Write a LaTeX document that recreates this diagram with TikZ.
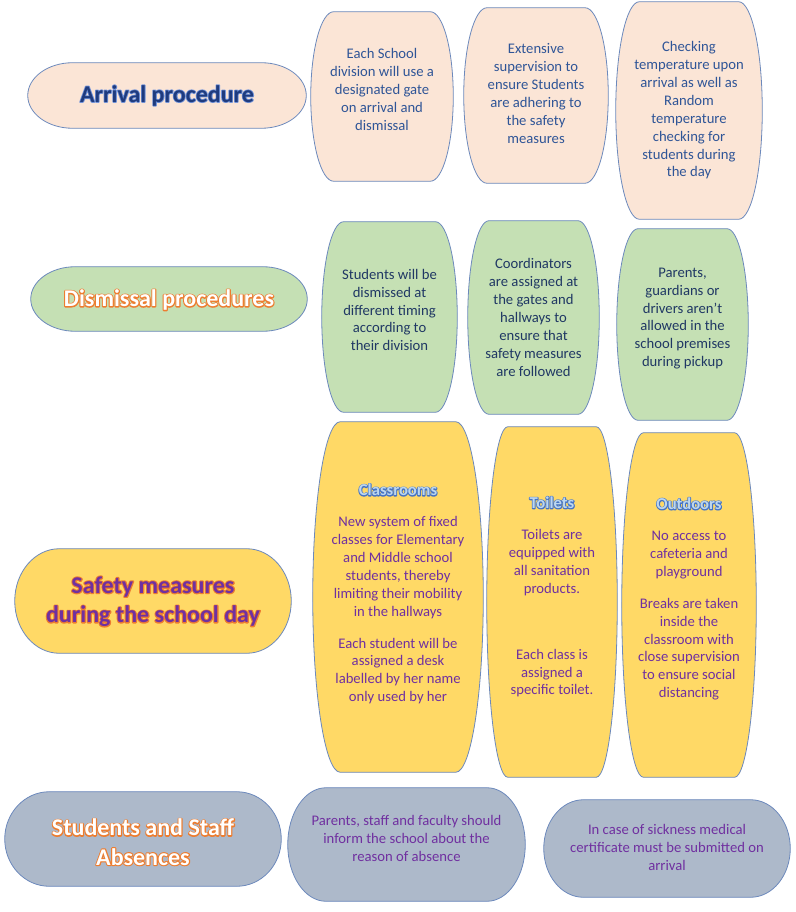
\documentclass[tikz,border=0pt]{standalone}
\usepackage{fontspec}
\setmainfont{Carlito}
\usetikzlibrary{backgrounds,calc}

\definecolor{peach}{HTML}{FBE5D6}
\definecolor{leaf}{HTML}{C5E0B4}
\definecolor{sun}{HTML}{FFD966}
\definecolor{slate}{HTML}{ADB9CA}
\definecolor{boxedge}{HTML}{6C89BC}
\definecolor{arrhead}{HTML}{1F3B7E}
\definecolor{arrtext}{HTML}{2F5597}
\definecolor{distext}{HTML}{203864}
\definecolor{purp}{HTML}{7030A0}
\definecolor{subfill}{HTML}{BDD7EE}

% text with an outline drawn behind it
\newcommand\glow[3]{\leavevmode\rlap{\special{pdf:literal direct 1 Tr 1 j #1 w #2 RG}#3\special{pdf:literal direct 0 Tr}}#3}
\newcommand\subhead[1]{{\fontsize{12.5}{15}\selectfont\bfseries\color{subfill}\glow{1.3}{0.27 0.45 0.77}{#1}}}

% terminator outline round a node, moved down by #3
\newcommand\termbox[3]{%
  \path[draw=boxedge,line width=0.6pt,fill=#2]
    let \p1=($(#1.north west)+(0,#3)$), \p2=($(#1.south east)+(0,#3)$),
        \n1={0.161*(\x2-\x1)}, \n2={0.5*(\y1-\y2)} in
    (\x1+\n1,\y1) -- (\x2-\n1,\y1)
    arc[start angle=90,end angle=-90,x radius=\n1,y radius=\n2]
    -- (\x1+\n1,\y2)
    arc[start angle=270,end angle=90,x radius=\n1,y radius=\n2]
    -- cycle;}

\begin{document}
\begin{tikzpicture}[x=0.75pt,y=-0.75pt,
    wh/.style 2 args={minimum width=#1*0.75pt,minimum height=#2*0.75pt},
    topic/.style={align=center,inner sep=0pt,
      font=\fontsize{18}{22}\selectfont\bfseries},
    item/.style={align=center,inner sep=0pt,
      font=\fontsize{11}{13.4}\selectfont},
    ]
    \useasboundingbox (0,0) rectangle (795,912);

    % topics
    \node[topic,wh={278}{65},text=arrhead] (arrival) at (167,95.5)
      {\glow{1.2}{0.45 0.58 0.85}{Arrival procedure}};
    \node[topic,wh={276}{64},text=white] (dismissal) at (169,300)
      {\glow{1.6}{0.93 0.49 0.19}{Dismissal procedures}};
    \node[topic,wh={276}{104},text=purp] (safety) at (153,601.5)
      {\glow{1.6}{0.93 0.49 0.19}{Safety measures}\\
       \glow{1.6}{0.93 0.49 0.19}{during the school day}};
    \node[topic,wh={276}{94},text=white] (absence) at (143,842)
      {\glow{1.6}{0.93 0.49 0.19}{Students and Staff}\\
       \glow{1.6}{0.93 0.49 0.19}{Absences}};

    % arrival
    \node[item,wh={142}{169},text=arrtext] (gate) at (382,89.5)
      {Each School\\division will use a\\designated gate\\on arrival and\\dismissal};
    \node[item,wh={144}{175},text=arrtext] (supervision) at (536,93.5)
      {Extensive\\supervision to\\ensure Students\\are adhering to\\the safety\\measures};
    \node[item,wh={146}{217},text=arrtext] (temperature) at (689,110.5)
      {Checking\\temperature upon\\arrival as well as\\Random\\temperature\\checking for\\students during\\the day};

    % dismissal
    \node[item,wh={135}{190},text=distext] (timing) at (389.5,310)
      {Students will be\\dismissed at\\different timing\\according to\\their division};
    \node[item,wh={131}{193},text=distext] (coordinators) at (533.5,317.5)
      {Coordinators\\are assigned at\\the gates and\\hallways to\\ensure that\\safety measures\\are followed};
    \node[item,wh={131}{191},text=distext] (pickup) at (682.5,318.5)
      {Parents,\\guardians or\\drivers aren’t\\allowed in the\\school premises\\during pickup};

    % safety
    \node[item,wh={170}{350},text=purp] (classrooms) at (398,594)
      {\subhead{Classrooms}\\[10pt]
       New system of fixed\\classes for Elementary\\and Middle school\\students, thereby\\limiting their mobility\\in the hallways\\[10.5pt]
       Each student will be\\assigned a desk\\labelled by her name\\only used by her};
    \node[item,wh={130}{350},text=purp] (toilets) at (552,597)
      {\subhead{Toilets}\\[10pt]
       Toilets are\\equipped with\\all sanitation\\products.\\[36pt]
       Each class is\\assigned a\\specific toilet.};
    \node[item,wh={134}{344},text=purp] (outdoors) at (689,599)
      {\subhead{Outdoors}\\[10pt]
       No access to\\cafeteria and\\playground\\[10.5pt]
       Breaks are taken\\inside the\\classroom with\\close supervision\\to ensure social\\distancing};

    % absences
    \node[item,wh={237}{113},text=purp] (inform) at (406.5,838.5)
      {Parents, staff and faculty should\\inform the school about the\\reason of absence};
    \node[item,wh={246}{97},text=purp] (certificate) at (667,847.5)
      {In case of sickness medical\\certificate must be submitted on\\arrival};

    \begin{scope}[on background layer]
      \foreach \nm/\cl/\dy in {arrival/peach/0,gate/peach/7,supervision/peach/2,
          temperature/peach/0,dismissal/leaf/-1,timing/leaf/7,coordinators/leaf/0,
          pickup/leaf/6,safety/sun/-0.5,classrooms/sun/3,toilets/sun/5,outdoors/sun/6,
          absence/slate/-3,inform/slate/6,certificate/slate/1}
        \termbox{\nm}{\cl}{\dy};
    \end{scope}
\end{tikzpicture}
\end{document}
